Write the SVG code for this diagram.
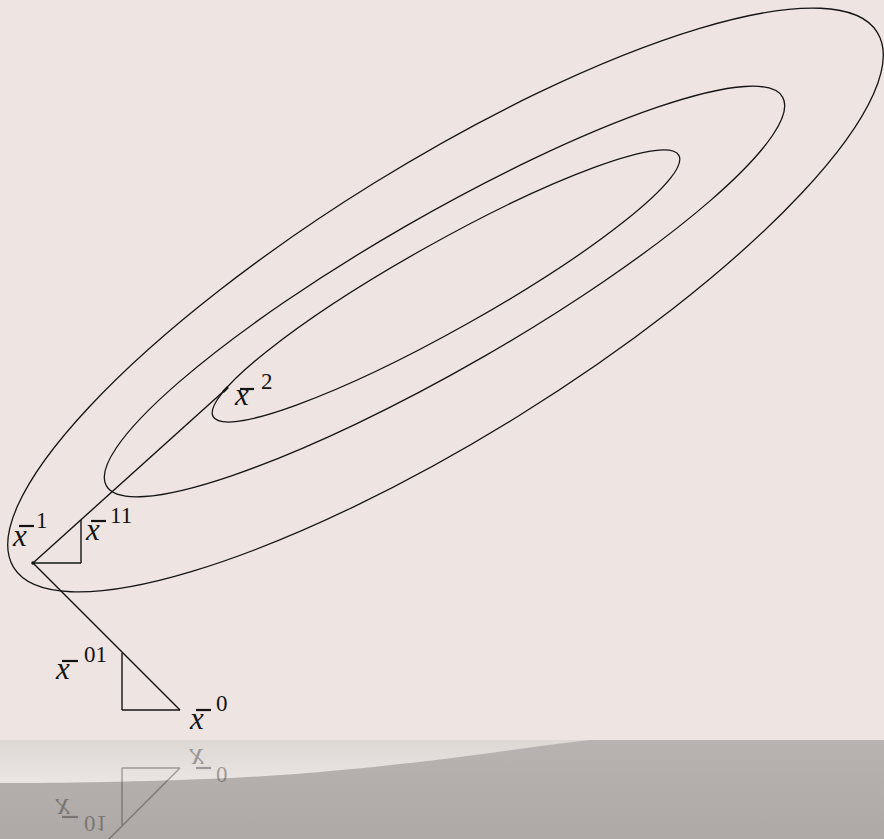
<svg xmlns="http://www.w3.org/2000/svg" width="884" height="839" viewBox="0 0 884 839">
<defs>
<style>
.c{fill:none;stroke:#141414;stroke-width:1.3}
.s{fill:none;stroke:#141414;stroke-width:1.4}
.bar{stroke:#141414;stroke-width:2.2}
.xv{font-family:'Liberation Serif','Times New Roman',serif;font-style:italic;font-size:31px;fill:#141414}
.sup{font-family:'Liberation Serif','Times New Roman',serif;font-size:23px;fill:#141414}
</style>
<linearGradient id="lightband" x1="0" y1="740" x2="0" y2="782" gradientUnits="userSpaceOnUse">
<stop offset="0" stop-color="#DED8D5"/>
<stop offset="1" stop-color="#EAE5E2"/>
</linearGradient>
<linearGradient id="grayband" x1="0" y1="740" x2="0" y2="839" gradientUnits="userSpaceOnUse">
<stop offset="0" stop-color="#B8B3B0"/>
<stop offset="1" stop-color="#AEA9A6"/>
</linearGradient>
<clipPath id="below"><rect x="0" y="740" width="884" height="99"/></clipPath>
</defs>
<rect x="0" y="0" width="884" height="740" fill="#EEE4E1"/>
<rect x="0" y="740" width="884" height="99" fill="url(#grayband)"/>
<path d="M0 740 L590 740 C500 750 390 770 230 778 C140 782 60 783 0 783 Z" fill="url(#lightband)"/>

<g id="contour-outer"><ellipse class="c" cx="445.5" cy="300" rx="508" ry="137" transform="rotate(-31.8 445.5 300)"/></g>
<g id="contour-middle"><ellipse class="c" cx="444.5" cy="291.5" rx="390" ry="76" transform="rotate(-29.9 444.5 291.5)"/></g>
<g id="contour-inner"><ellipse class="c" cx="446" cy="286" rx="267" ry="43.3" transform="rotate(-29.3 446 286)"/></g>

<g id="lower">
<g id="connectors">
<line class="s" x1="180" y1="710" x2="33" y2="563"/>
<line class="s" x1="122" y1="653" x2="122" y2="710"/>
<line class="s" x1="122" y1="710" x2="180" y2="710"/>
</g>
<g id="x0"><line class="bar" x1="196" y1="710" x2="211" y2="710"/><text class="xv" x="190" y="729">x</text><text class="sup" x="216" y="711">0</text></g>
<g id="x01"><line class="bar" x1="62" y1="661" x2="78" y2="661"/><text class="xv" x="56" y="679">x</text><text class="sup" x="84" y="662">01</text></g>
</g>

<g id="connectors-upper">
<line class="s" x1="33" y1="563" x2="225" y2="390"/>
<line class="s" x1="33" y1="563" x2="81" y2="563"/>
<line class="s" x1="81" y1="563" x2="81" y2="520"/>
<circle cx="33" cy="563" r="1.8" fill="#141414"/>
<line x1="223" y1="392" x2="228" y2="387" stroke="#141414" stroke-width="2.5"/>
</g>
<g id="x1"><line class="bar" x1="19" y1="526" x2="34" y2="526"/><text class="xv" x="13" y="546">x</text><text class="sup" x="36" y="528">1</text></g>
<g id="x11"><line class="bar" x1="91" y1="521" x2="106" y2="521"/><text class="xv" x="86" y="540">x</text><text class="sup" x="110" y="523">11</text></g>
<g id="x2"><line class="bar" x1="240" y1="389" x2="254" y2="389"/><text class="xv" x="235" y="405">x</text><text class="sup" x="261" y="389">2</text></g>

<g id="reflection" clip-path="url(#below)" opacity="0.35">
<use href="#lower" transform="translate(0,1478) scale(1,-1)"/>
</g>
</svg>
